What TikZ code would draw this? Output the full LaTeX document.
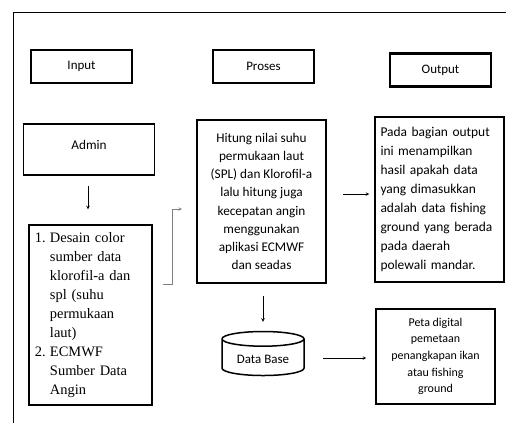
\documentclass[tikz,border=0pt]{standalone}
\usepackage{fontspec}
\setmainfont{Carlito}
\newfontfamily\hurufserif{Liberation Serif}
\usetikzlibrary{shapes.geometric}
\tikzset{
 kepala/.style={draw,line width=2.4bp,minimum width=101bp,minimum height=33bp,font=\fontsize{13}{16}\selectfont},
 kotak/.style={draw,line width=1.5bp,align=center,font=\fontsize{13.3}{18.3}\selectfont},
 panah/.style={->,>=stealth,semithick},
}
\begin{document}
\begin{tikzpicture}[x=1bp,y=-1bp]
 \useasboundingbox (0,0) rectangle (506,423);
 \draw[line width=1.5bp] (13.5,423) |- (506,12.5); %bingkai luar
 \node[kepala] (input) at (81.5,66.5) {Input}; %judul kolom kiri
 \node[kepala] (proses) at (263.5,66.5) {Proses}; %judul kolom tengah
 \node[kepala] (output) at (440.5,70) {Output}; %judul kolom kanan
 \node[kotak,minimum width=131bp,minimum height=51bp,text depth=9bp] (admin) at (89,149.5) {Admin};
 \node[kotak,font=\hurufserif\fontsize{14.5}{19}\selectfont,align=left,minimum width=123bp,minimum height=180bp,text width=111bp] (daftar) at (90.5,315)
  {\makebox[15bp][l]{1.}Desain color\\\hspace*{15bp}sumber data\\\hspace*{15bp}klorofil-a dan\\\hspace*{15bp}spl (suhu\\\hspace*{15bp}permukaan\\\hspace*{15bp}laut)\\
   \makebox[15bp][l]{2.}ECMWF\\\hspace*{15bp}Sumber Data\\\hspace*{15bp}Angin}; %daftar sumber data
 \node[kotak,minimum width=129bp,minimum height=163bp] (hitung) at (261.5,201.5)
  {Hitung nilai suhu\\permukaan laut\\(SPL) dan Klorofil-a\\lalu hitung juga\\kecepatan angin\\menggunakan\\aplikasi ECMWF\\dan seadas};
 \node[kotak,align=left,font=\fontsize{13.5}{19}\selectfont,minimum width=129bp,minimum height=165bp,text width=118bp] (hasil) at (439.5,199.5)
  {Pada bagian output\\ini menampilkan\\hasil apakah data\\yang dimasukkan\\adalah data fishing\\ground yang berada\\pada daerah\\polewali mandar.};
 \node[draw,line width=1.5bp,cylinder,shape border rotate=90,aspect=0.25,minimum width=82bp,minimum height=44bp,font=\fontsize{13}{16}\selectfont] (db) at (263,359) {Data Base};
 \node[kotak,font=\fontsize{12}{16.7}\selectfont,minimum width=119bp,minimum height=95bp] (peta) at (435.5,356.5)
  {Peta digital\\pemetaan\\penangkapan ikan\\atau fishing\\ground};
 \coordinate (siku1) at (163,284); %awal garis siku
 \coordinate (siku2) at (182,209); %ujung panah siku
 \draw[panah,shorten <=10bp,shorten >=15bp] (admin.south -| 88,0) -- (daftar.north -| 88,0); %admin ke daftar
 \draw[panah,gray] (siku1) -- ++(9,0) |- (siku2); %daftar ke proses
 \draw[panah,shorten <=16bp,shorten >=5bp] (hitung.east |- 0,194) -- (hasil.west |- 0,194); %proses ke output
 \draw[panah,shorten <=12bp,shorten >=9bp] (hitung.south -| db.north) -- (db.north); %proses ke data base
 \draw[panah,shorten <=18bp,shorten >=9bp] (db.east |- 0,358) -- (peta.west |- 0,358); %data base ke peta
\end{tikzpicture}
\end{document}
